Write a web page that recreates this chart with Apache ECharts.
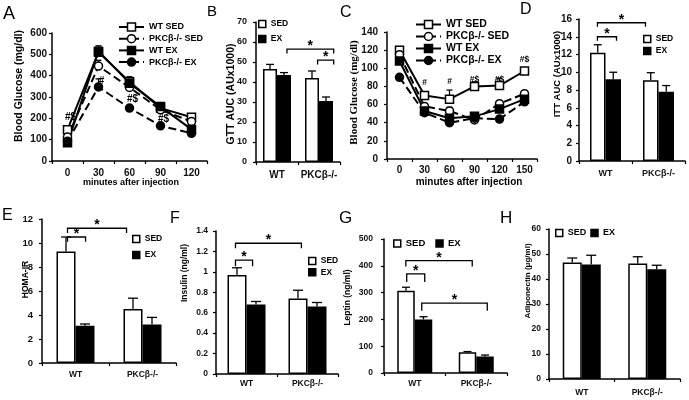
<!DOCTYPE html>
<html><head><meta charset="utf-8">
<script src="https://cdn.jsdelivr.net/npm/echarts@6/dist/echarts.min.js"></script>
<style>html,body{margin:0;padding:0;background:#fff}#c{width:689px;height:400px}</style>
</head><body><div id="c"></div>
<script>
const FONT = '"Liberation Sans", Arial, sans-serif';
const SERIF = '"Liberation Serif", "Times New Roman", serif';

// ---------- Panel A (GTT) ----------
const minutesA = ['0', '30', '60', '90', '120'];
const aWtSed = [147, 510, 372, 248, 205];
const aWtSedErr = [160, 540, 395, 262, 218];
const aKoSed = [112, 445, 345, 240, 185];
const aKoSedErr = [122, 472, 360, 250, 195];
const aWtEx = [85, 515, 365, 255, 148];
const aWtExErr = [95, 532, 378, 263, 158];
const aKoEx = [92, 347, 248, 165, 130];
const aKoExErr = [100, 385, 258, 172, 138];
const aMarkText = ['#$', '#', '#$', '#$'];
const aMarkIdx = [0, 1, 2, 3];
const aMarkY = [203, 375, 290, 195];

// ---------- Panel C (ITT) ----------
const minutesC = ['0', '30', '60', '90', '120', '150'];
const cWtSed = [120, 70, 66, 80, 81, 97];
const cWtSedErr = [123, 74, 76, 85, 89, 100];
const cKoSed = [115, 58, 53, 43, 61, 72];
const cKoSedErr = [118, 61, 57, 46, 64, 75];
const cWtEx = [108, 53, 45, 47, 55, 66];
const cWtExErr = [111, 55, 48, 51, 58, 68];
const cKoEx = [90, 51, 40, 45, 44, 63];
const cKoExErr = [93, 53, 42, 47, 47, 65];
const cMarkText = ['#', '#', '#$', '#$', '#$'];
const cMarkIdx = [1, 2, 3, 4, 5];
const cMarkY = [84, 85, 87, 87, 109];

// ---------- Bar panels ----------
const genotypes = ['WT', 'PKCβ-/-'];
const bSed = [46.5, 42], bSedErr = [48.8, 45.5], bEx = [43.5, 30.5], bExErr = [44.7, 32.5];
const dSed = [12.2, 9.1], dSedErr = [13.1, 9.95], dEx = [9.2, 7.8], dExErr = [10.0, 8.5];
const eSed = [9.3, 4.5], eSedErr = [10.5, 5.4], eEx = [3.1, 3.2], eExErr = [3.25, 3.8];
const fSed = [0.97, 0.74], fSedErr = [1.04, 0.82], fEx = [0.68, 0.66], fExErr = [0.71, 0.70];
const gSed = [307, 77], gSedErr = [320, 80], gEx = [200, 62], gExErr = [210, 67];
const hSed = [46.6, 46.2], hSedErr = [48.4, 48.9], hEx = [45.8, 43.9], hExErr = [49.5, 45.5];

// significance brackets: [cat1, side1, cat2, side2, yTop, yBottom]
const bBrackets = [[0, 0.71, 1, 1.05, 56.4, 54.3], [1, -0.1, 1, 1.05, 50.9, 48.8]];
const dBrackets = [[0, -0.52, 1, -0.84, 15.58, 15.13], [0, -0.52, 0, 0.71, 14.0, 13.55]];
const eBrackets = [[0, -0.42, 1, -0.84, 11.23, 10.84], [0, -0.42, 0, 0.53, 10.5, 10.1]];
const fBrackets = [[0, -0.58, 1, -0.32, 1.28, 1.23], [0, -0.58, 0, 0.32, 1.114, 1.055]];
const gBrackets = [[0, -0.51, 1, -0.23, 419, 397], [0, -0.46, 0, 0.57, 370, 340], [0, 0.4, 1, 0.63, 261, 232]];

const N = {ws: 'WT SED', ks: 'PKCβ-/- SED', we: 'WT EX', ke: 'PKCβ-/- EX'};

const grids = [
  {left: 52, top: 33, width: 155, height: 128},   // 0 A
  {left: 256, top: 22, width: 84, height: 140},   // 1 B
  {left: 387, top: 32, width: 150, height: 127},  // 2 C
  {left: 579, top: 19, width: 106, height: 142},  // 3 D
  {left: 42, top: 219, width: 134, height: 144},  // 4 E
  {left: 216, top: 231, width: 122, height: 143}, // 5 F
  {left: 384, top: 239, width: 123, height: 134}, // 6 G
  {left: 549, top: 229, width: 131, height: 150}  // 7 H
].map(g => Object.assign({outerBoundsMode: 'none', containLabel: false}, g));

function yAx(gi, max, interval, fs, margin) {
  return {type: 'value', gridIndex: gi, min: 0, max, interval,
    splitLine: {show: false},
    axisLine: {show: true, lineStyle: {color: '#000', width: 1.5}},
    axisTick: {show: true, length: 3, lineStyle: {color: '#000', width: 1.2}},
    axisLabel: {fontSize: fs, fontWeight: 'bold', color: '#111', fontFamily: FONT, margin}};
}
function xAx(gi, data, fs, margin) {
  return {type: 'category', gridIndex: gi, data, boundaryGap: true,
    axisLine: {show: true, onZero: false, lineStyle: {color: '#000', width: 1.5}},
    axisTick: {show: true, length: 3, lineStyle: {color: '#000', width: 1.2}},
    axisLabel: {fontSize: fs, fontWeight: 'bold', color: '#111', fontFamily: FONT, margin, interval: 0}};
}
function lineS(name, gi, data, symbol, filled, dashed, size) {
  return {type: 'line', name, xAxisIndex: gi, yAxisIndex: gi, data, symbol, symbolSize: size, z: 3,
    lineStyle: {color: '#000', width: 2, type: dashed ? [8, 4] : 'solid'},
    itemStyle: {color: filled ? '#000' : '#fff', borderColor: '#000', borderWidth: 1.5},
    emphasis: {disabled: true}, silent: true};
}
function barS(name, gi, data, filled, bw) {
  return {type: 'bar', name, xAxisIndex: gi, yAxisIndex: gi, data, barWidth: bw, barGap: '0%', z: 2,
    itemStyle: {color: filled ? '#000' : '#fff', borderColor: '#000', borderWidth: 1.5},
    emphasis: {disabled: true}, silent: true};
}
function errS(gi, vals, tops, dx, cap) {
  return {type: 'custom', xAxisIndex: gi, yAxisIndex: gi, z: 1, silent: true,
    data: vals.map((v, i) => [i, v, tops[i]]), encode: {x: 0, y: [1, 2]},
    renderItem(p, api) {
      const a = api.coord([api.value(0), api.value(1)]);
      const b = api.coord([api.value(0), api.value(2)]);
      const x = a[0] + dx;
      return {type: 'group', children: [
        {type: 'line', shape: {x1: x, y1: a[1], x2: x, y2: b[1]}, style: {stroke: '#000', lineWidth: 1.3}},
        {type: 'line', shape: {x1: x - cap, y1: b[1], x2: x + cap, y2: b[1]}, style: {stroke: '#000', lineWidth: 1.3}}
      ]};
    }};
}
function bracketS(gi, brackets, bw, fs) {
  return {type: 'custom', xAxisIndex: gi, yAxisIndex: gi, z: 6, silent: true,
    data: brackets, encode: {x: [0, 2], y: [4, 5]},
    renderItem(p, api) {
      const yT = api.coord([0, api.value(4)])[1];
      const yB = api.coord([0, api.value(5)])[1];
      const x1 = api.coord([api.value(0), api.value(4)])[0] + api.value(1) * bw;
      const x2 = api.coord([api.value(2), api.value(4)])[0] + api.value(3) * bw;
      return {type: 'group', children: [
        {type: 'polyline', shape: {points: [[x1, yB], [x1, yT], [x2, yT], [x2, yB]]},
          style: {stroke: '#000', lineWidth: 1.3, fill: null}},
        {type: 'text', x: (x1 + x2) / 2, y: yT + 4,
          style: {text: '*', align: 'center', verticalAlign: 'bottom', fill: '#000', font: 'bold ' + fs + 'px ' + FONT}}
      ]};
    }};
}
function markS(gi, idx, ys, texts, fs, dx) {
  return {type: 'custom', xAxisIndex: gi, yAxisIndex: gi, z: 6, silent: true,
    data: idx.map((c, i) => [c, ys[i]]), encode: {x: 0, y: 1},
    renderItem(p, api) {
      const pt = api.coord([api.value(0), api.value(1)]);
      return {type: 'text', x: pt[0] + dx, y: pt[1],
        style: {text: texts[p.dataIndex], align: 'center', verticalAlign: 'middle', fill: '#000', font: 'bold ' + fs + 'px ' + FONT}};
    }};
}
function barLeg(left, top, orient, fs, gap) {
  return {data: ['SED', 'EX'], left, top, orient, padding: 0, itemGap: gap, itemWidth: 7, itemHeight: 7,
    icon: 'rect', selectedMode: false,
    itemStyle: {borderWidth: 1.5, borderColor: '#000'},
    textStyle: {fontSize: fs, fontWeight: 'bold', color: '#000', fontFamily: FONT, lineHeight: 9}};
}
function lineLeg(left, top, fs, gap, lh) {
  return {data: [N.ws, N.ks, N.we, N.ke], left, top, orient: 'vertical', padding: 0, itemGap: gap,
    itemWidth: 25, itemHeight: 10, selectedMode: false,
    itemStyle: {borderWidth: 1.5},
    textStyle: {fontSize: fs, fontWeight: 'bold', color: '#000', fontFamily: FONT, lineHeight: lh}};
}
function vTitle(text, x, y, fs, fam) {
  return {type: 'text', x, y, rotation: Math.PI / 2,
    style: {text, font: 'bold ' + fs + 'px ' + (fam || FONT), fill: '#000', align: 'center', verticalAlign: 'middle'}};
}
function hTitle(text, x, y, fs) {
  return {type: 'text', x, y, style: {text, font: 'bold ' + fs + 'px ' + FONT, fill: '#000', align: 'center', verticalAlign: 'middle'}};
}
function letter(t, left, top, fs) {
  return {text: t, left, top, padding: 0, textStyle: {fontSize: fs, fontWeight: 'normal', color: '#000', fontFamily: FONT}};
}

const series = [
  // A
  errS(0, aWtSed, aWtSedErr, 0, 3), errS(0, aKoSed, aKoSedErr, 0, 3),
  errS(0, aWtEx, aWtExErr, 0, 3), errS(0, aKoEx, aKoExErr, 0, 3),
  lineS(N.ws, 0, aWtSed, 'rect', false, false, 8),
  lineS(N.ks, 0, aKoSed, 'circle', false, true, 8),
  lineS(N.we, 0, aWtEx, 'rect', true, false, 8),
  lineS(N.ke, 0, aKoEx, 'circle', true, true, 8),
  markS(0, aMarkIdx, aMarkY, aMarkText, 10, 3),
  // C
  errS(2, cWtSed, cWtSedErr, 0, 3), errS(2, cKoSed, cKoSedErr, 0, 3),
  errS(2, cWtEx, cWtExErr, 0, 3), errS(2, cKoEx, cKoExErr, 0, 3),
  lineS(N.ws, 2, cWtSed, 'rect', false, false, 8),
  lineS(N.ks, 2, cKoSed, 'circle', false, true, 8),
  lineS(N.we, 2, cWtEx, 'rect', true, false, 8),
  lineS(N.ke, 2, cKoEx, 'circle', true, true, 8),
  markS(2, cMarkIdx, cMarkY, cMarkText, 8.5, 0),
];
function barPanel(gi, sed, sedErr, ex, exErr, bw, cap, brackets, sfs) {
  series.push(barS('SED', gi, sed, false, bw), barS('EX', gi, ex, true, bw));
  const e1 = errS(gi, sed, sedErr, -bw / 2, cap); e1.z = 4;
  const e2 = errS(gi, ex, exErr, bw / 2, cap); e2.z = 4;
  series.push(e1, e2);
  if (brackets) series.push(bracketS(gi, brackets, bw, sfs));
}
barPanel(1, bSed, bSedErr, bEx, bExErr, 14, 4, bBrackets, 14);
barPanel(3, dSed, dSedErr, dEx, dExErr, 15.5, 4, dBrackets, 14);
barPanel(4, eSed, eSedErr, eEx, eExErr, 19, 5, eBrackets, 14);
barPanel(5, fSed, fSedErr, fEx, fExErr, 19, 5, fBrackets, 14);
barPanel(6, gSed, gSedErr, gEx, gExErr, 17.5, 4, gBrackets, 14);
barPanel(7, hSed, hSedErr, hEx, hExErr, 19, 5, null, 14);

const option = {
  animation: false,
  backgroundColor: '#fff',
  title: [letter('A', 3, 5, 18), letter('B', 207, 4, 15), letter('C', 340, 5, 16), letter('D', 520, 2, 16),
          letter('E', 2, 208, 16), letter('F', 170, 211, 16), letter('G', 339, 210, 17), letter('H', 500, 210, 17)],
  grid: grids,
  xAxis: [xAx(0, minutesA, 10, 7), xAx(1, genotypes, 10, 8), xAx(2, minutesC, 10, 6), xAx(3, genotypes, 9, 8),
          xAx(4, genotypes, 8.5, 7), xAx(5, genotypes, 8.5, 5.5), xAx(6, genotypes, 8.5, 6), xAx(7, genotypes, 8.5, 9)],
  yAxis: [yAx(0, 600, 100, 10, 5), yAx(1, 70, 10, 9, 9), yAx(2, 140, 20, 10, 9), yAx(3, 16, 2, 10, 7),
          yAx(4, 12, 2, 9.5, 9), yAx(5, 1.4, 0.2, 8.5, 8), yAx(6, 500, 100, 8.5, 11), yAx(7, 60, 10, 8.5, 8)],
  legend: [lineLeg(118, 22, 9, 1.7, 10), lineLeg(415, 19, 10.5, 1, 11),
           barLeg(258, 19.5, 'vertical', 8.5, 6), barLeg(643, 34.5, 'vertical', 8.5, 3),
           barLeg(132, 234.5, 'vertical', 8.5, 7), barLeg(308, 256.5, 'vertical', 8.5, 2.3),
           barLeg(393, 238.5, 'horizontal', 9.5, 10), barLeg(555, 228.5, 'horizontal', 9, 4)],
  graphic: [
    vTitle('Blood Glucose (mg/dl)', 19, 86, 10.5),
    hTitle('minutes after injection', 131, 183, 9),
    vTitle('GTT AUC (AUx1000)', 231, 94, 10.5),
    vTitle('Blood Glucose (mg/dl)', 354.5, 92.5, 11, SERIF),
    hTitle('minutes after injection', 469, 182, 10),
    vTitle('ITT AUC (AUx1000)', 557.5, 74, 9.5),
    vTitle('HOMA-IR', 26, 279.5, 8.5),
    vTitle('Insulin (ng/ml)', 184.5, 273, 8.5),
    vTitle('Leptin (ng/ml)', 347.5, 297.5, 8.5),
    vTitle('Adiponectin (μg/ml)', 527.5, 281, 8)
  ],
  series
};
const chart = echarts.init(document.getElementById('c'), null, {renderer: 'canvas'});
chart.setOption(option);
</script></body></html>
